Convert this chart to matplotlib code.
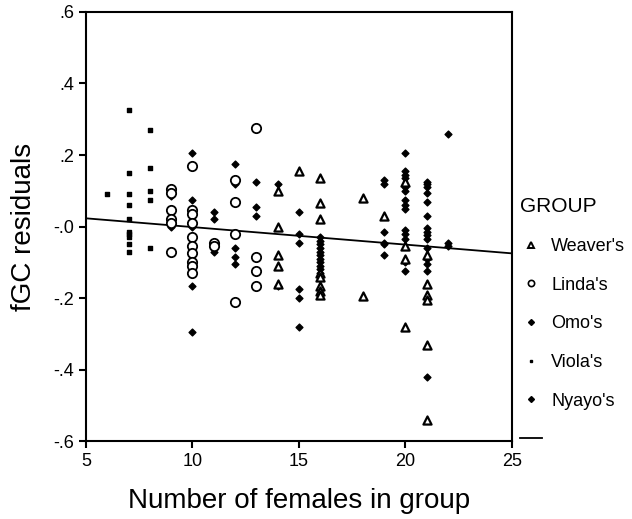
import numpy as np
import matplotlib.pyplot as plt
from matplotlib.lines import Line2D

plt.rcParams['font.family'] = ['Liberation Sans', 'DejaVu Sans']

# Data: number of females in group vs fGC residuals, per group
weaver_x = [14, 14, 14, 14, 14, 15, 16, 16, 16, 16, 16, 16, 16, 16,
            18, 18, 19, 20, 20, 20, 20, 21, 21, 21, 21, 21, 21]
weaver_y = [0.10, 0.0, -0.08, -0.11, -0.16, 0.155, 0.135, 0.065, 0.02,
            -0.13, -0.14, -0.165, -0.18, -0.19, 0.08, -0.195, 0.03,
            0.125, -0.055, -0.09, -0.28, -0.08, -0.16, -0.19, -0.205,
            -0.33, -0.54]

linda_x = [9, 9, 9, 9, 9, 9, 10, 10, 10, 10, 10, 10, 10, 10, 10, 10,
           11, 11, 12, 12, 12, 12, 13, 13, 13, 13]
linda_y = [0.105, 0.095, 0.045, 0.02, 0.01, -0.07, 0.17, 0.045, 0.035,
           0.01, -0.03, -0.055, -0.075, -0.10, -0.11, -0.13, -0.045,
           -0.055, 0.13, 0.07, -0.02, -0.21, 0.275, -0.085, -0.125,
           -0.165]

omo_x = [9, 9, 10, 10, 10, 10, 10, 11, 11, 11, 12, 12, 12, 12, 12,
         13, 13, 13, 14, 14, 15, 15, 15, 15, 15, 15,
         16, 16, 16, 16, 16, 16, 16, 16, 16, 16, 16]
omo_y = [0.085, 0.0, 0.205, 0.075, 0.0, -0.165, -0.295, 0.04, 0.02,
         -0.07, 0.175, 0.12, -0.06, -0.085, -0.105, 0.125, 0.055, 0.03,
         0.12, -0.165, 0.04, -0.02, -0.045, -0.175, -0.2, -0.28,
         -0.03, -0.04, -0.05, -0.06, -0.07, -0.08, -0.09, -0.10, -0.11,
         -0.12, -0.13]

viola_x = [6, 7, 7, 7, 7, 7, 7, 7, 7, 7, 7, 8, 8, 8, 8, 8]
viola_y = [0.09, 0.325, 0.15, 0.09, 0.06, 0.02, -0.015, -0.02, -0.03,
           -0.05, -0.07, 0.27, 0.165, 0.10, 0.075, -0.06]

nyayo_x = [19, 19, 19, 19, 19, 19,
           20, 20, 20, 20, 20, 20, 20, 20, 20, 20, 20, 20, 20, 20,
           21, 21, 21, 21, 21, 21, 21, 21, 21, 21, 21, 21, 21, 21, 21,
           22, 22, 22]
nyayo_y = [0.13, 0.12, -0.015, -0.045, -0.05, -0.08,
           0.205, 0.155, 0.145, 0.135, 0.11, 0.10, 0.075, 0.06, 0.05,
           -0.01, -0.02, -0.035, -0.10, -0.125,
           0.125, 0.12, 0.11, 0.095, 0.07, 0.03, -0.005, -0.015, -0.025,
           -0.035, -0.06, -0.09, -0.105, -0.125, -0.42,
           0.26, -0.045, -0.055]

# Fit line
fit_x = [5, 25]
fit_y = [0.023, -0.075]

x_ticks = [5, 10, 15, 20, 25]
y_ticks = [0.6, 0.4, 0.2, 0.0, -0.2, -0.4, -0.6]
y_tick_labels = ['.6', '.4', '.2', '-.0', '-.2', '-.4', '-.6']

fig = plt.figure(figsize=(6.32, 5.19), dpi=100)
ax = fig.add_axes([0.136, 0.150, 0.674, 0.827])

ax.plot(fit_x, fit_y, color='black', lw=1.3, zorder=1)
ax.scatter(weaver_x, weaver_y, marker='^', s=34, facecolors='white',
           edgecolors='black', linewidths=1.6, zorder=3)
ax.scatter(linda_x, linda_y, marker='o', s=45, facecolors='white',
           edgecolors='black', linewidths=1.3, zorder=3)
ax.scatter(omo_x, omo_y, marker='D', s=12, color='black', zorder=2)
ax.scatter(viola_x, viola_y, marker='s', s=6, color='black', zorder=2)
ax.scatter(nyayo_x, nyayo_y, marker='D', s=12, color='black', zorder=2)

ax.set_xlim(5, 25)
ax.set_ylim(-0.6, 0.6)
ax.set_xticks(x_ticks)
ax.set_yticks(y_ticks)
ax.set_yticklabels(y_tick_labels)
ax.tick_params(direction='out', length=5, width=1.5, labelsize=13,
               top=False, right=False)
for s in ax.spines.values():
    s.set_linewidth(1.5)

ax.set_xlabel("Number of females in group", fontsize=20, labelpad=13)
ax.set_ylabel("fGC residuals", fontsize=20, labelpad=12)

# Legend
handles = [
    Line2D([], [], marker='^', ls='', ms=4, mfc='white', mec='black', mew=1.4),
    Line2D([], [], marker='o', ls='', ms=4.5, mfc='white', mec='black', mew=1.2),
    Line2D([], [], marker='D', ls='', ms=3, color='black'),
    Line2D([], [], marker='s', ls='', ms=2, color='black'),
    Line2D([], [], marker='D', ls='', ms=3, color='black'),
    Line2D([], [], color='black', lw=1.3),
]
labels = ["Weaver's", "Linda's", "Omo's", "Viola's", "Nyayo's", ""]
leg = fig.legend(handles, labels, title="GROUP", loc='upper left',
                 bbox_to_anchor=(0.812, 0.634), frameon=False, fontsize=13,
                 title_fontsize=15, labelspacing=1.2, handlelength=1.2,
                 handletextpad=0.5, borderaxespad=0, alignment='left')

fig.savefig("out.png", dpi=100)
